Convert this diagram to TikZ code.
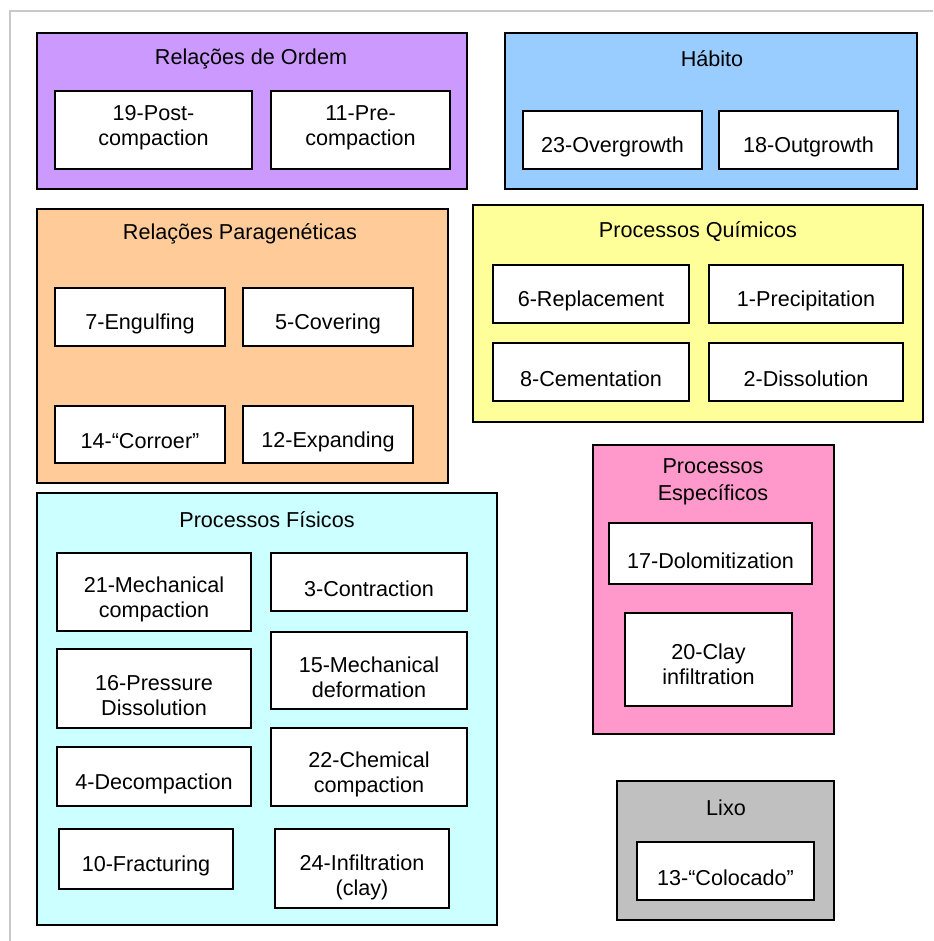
\documentclass[tikz,border=0pt]{standalone}
\usepackage{xcolor}
\usepackage{fontspec}
\setmainfont{Liberation Sans}
\definecolor{ordemFill}{HTML}{CC99FF}
\definecolor{habitoFill}{HTML}{99CCFF}
\definecolor{paraFill}{HTML}{FFCC99}
\definecolor{quimFill}{HTML}{FFFF99}
\definecolor{fisFill}{HTML}{CCFFFF}
\definecolor{especFill}{HTML}{FF99CC}
\definecolor{lixoFill}{HTML}{C0C0C0}
\definecolor{frameGray}{HTML}{C8C8C8}
\tikzset{
  frameLine/.style={draw=frameGray,line width=1.6pt},
  groupBox/.style={draw=black,line width=1.6pt},
  groupTitle/.style={font=\fontsize{21.6}{27}\selectfont,align=center,inner sep=0pt},
  itemBox/.style={draw=black,line width=1.6pt,fill=white,inner sep=0pt},
  itemText/.style={font=\fontsize{21.6}{25}\selectfont,align=center,inner sep=0pt,yshift=-7pt}
}

\begin{document}
\begin{tikzpicture}[x=1pt,y=-1pt]
  \useasboundingbox (0,0) rectangle (933,941);
  \draw[frameLine] (933,11) -- (10,11) -- (10,941);

  % Relacoes de Ordem
  \draw[groupBox,fill=ordemFill] (37,33) rectangle (467,189);
  \node[groupTitle] (ordem) at (251,58.5) {Relações de Ordem};
  \node[itemBox,minimum width=197,minimum height=78,label={[itemText,yshift=9pt]center:19-Post-\\compaction}] (post) at (153.5,130) {};
  \node[itemBox,minimum width=179,minimum height=78,label={[itemText,yshift=9pt]center:11-Pre-\\compaction}] (pre) at (360.5,130) {};

  % Habito
  \draw[groupBox,fill=habitoFill] (505,33) rectangle (917,189);
  \node[groupTitle] (habito) at (712,58.5) {Hábito};
  \node[itemBox,minimum width=179,minimum height=58,label={[itemText]center:23-Overgrowth}] (over) at (612.5,140) {};
  \node[itemBox,minimum width=179,minimum height=58,label={[itemText]center:18-Outgrowth}] (out) at (808.5,140) {};

  % Relacoes Parageneticas
  \draw[groupBox,fill=paraFill] (37,209) rectangle (448,483);
  \node[groupTitle] (para) at (240,233.5) {Relações Paragenéticas};
  \node[itemBox,minimum width=170,minimum height=58,label={[itemText]center:7-Engulfing}] (engulf) at (140,317) {};
  \node[itemBox,minimum width=170,minimum height=58,label={[itemText]center:5-Covering}] (cover) at (328,317) {};
  \node[itemBox,minimum width=170,minimum height=57,label={[itemText]center:14-“Corroer”}] (corroer) at (140,434.5) {};
  \node[itemBox,minimum width=170,minimum height=57,label={[itemText]center:12-Expanding}] (expand) at (328,434.5) {};

  % Processos Quimicos
  \draw[groupBox,fill=quimFill] (473,205) rectangle (923,422);
  \node[groupTitle] (quim) at (698,231.5) {Processos Químicos};
  \node[itemBox,minimum width=196,minimum height=58,label={[itemText]center:6-Replacement}] (repl) at (591,294) {};
  \node[itemBox,minimum width=194,minimum height=58,label={[itemText]center:1-Precipitation}] (precip) at (806,294) {};
  \node[itemBox,minimum width=196,minimum height=58,label={[itemText]center:8-Cementation}] (cement) at (591,372) {};
  \node[itemBox,minimum width=194,minimum height=58,label={[itemText]center:2-Dissolution}] (dissol) at (806,372) {};

  % Processos Fisicos
  \draw[groupBox,fill=fisFill] (37,493) rectangle (497,925);
  \node[groupTitle] (fis) at (267,519.5) {Processos Físicos};
  \node[itemBox,minimum width=194,minimum height=78,label={[itemText]center:21-Mechanical\\compaction}] (mechc) at (154,592) {};
  \node[itemBox,minimum width=196,minimum height=58,label={[itemText]center:3-Contraction}] (contr) at (369,582) {};
  \node[itemBox,minimum width=194,minimum height=79,label={[itemText]center:16-Pressure\\Dissolution}] (pdiss) at (154,688.5) {};
  \node[itemBox,minimum width=196,minimum height=77,label={[itemText]center:15-Mechanical\\deformation}] (mdef) at (369,670.5) {};
  \node[itemBox,minimum width=194,minimum height=59,label={[itemText]center:4-Decompaction}] (decomp) at (154,776.5) {};
  \node[itemBox,minimum width=196,minimum height=78,label={[itemText]center:22-Chemical\\compaction}] (chemc) at (369,767) {};
  \node[itemBox,minimum width=174,minimum height=60,label={[itemText]center:10-Fracturing}] (fract) at (146,859) {};
  \node[itemBox,minimum width=174,minimum height=79,label={[itemText,yshift=-2pt]center:24-Infiltration\\(clay)}] (infil) at (362,868.5) {};

  % Processos Especificos
  \draw[groupBox,fill=especFill] (593,445) rectangle (834,734);
  \node[groupTitle] (espec) at (713,481.5) {Processos\\Específicos};
  \node[itemBox,minimum width=203,minimum height=61,label={[itemText]center:17-Dolomitization}] (dolo) at (710.5,553.5) {};
  \node[itemBox,minimum width=167,minimum height=93,label={[itemText,yshift=2pt]center:20-Clay\\infiltration}] (clay) at (708.5,659.5) {};

  % Lixo
  \draw[groupBox,fill=lixoFill] (617,781) rectangle (834,920);
  \node[groupTitle] (lixo) at (726,808) {Lixo};
  \node[itemBox,minimum width=177,minimum height=58,label={[itemText]center:13-“Colocado”}] (coloc) at (725.5,871) {};
\end{tikzpicture}
\end{document}
